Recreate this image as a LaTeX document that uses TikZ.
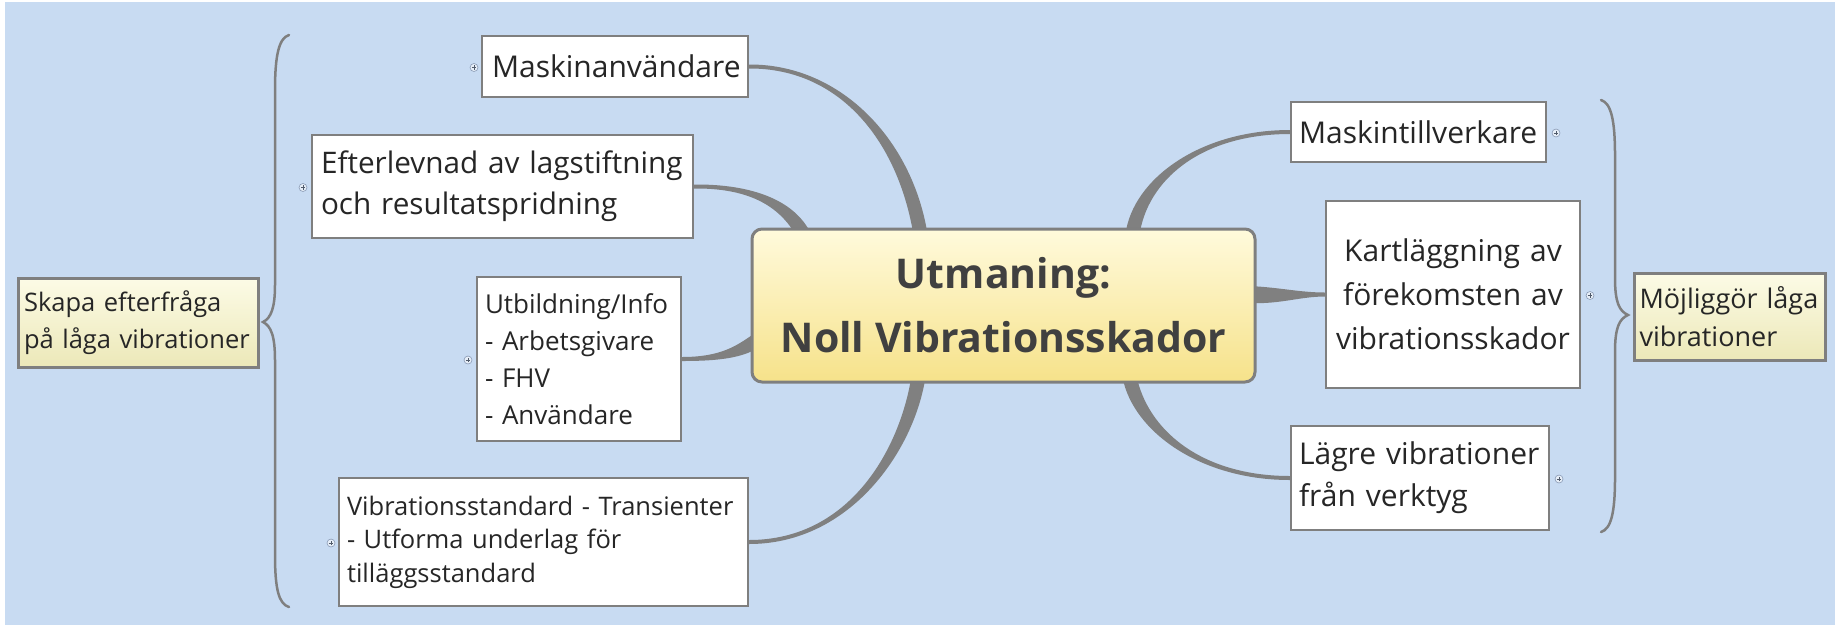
\documentclass[tikz,border=0pt]{standalone}
\usepackage{fontspec}
\setmainfont{Open Sans}
\usetikzlibrary{calc}
\definecolor{bgblue}{HTML}{C8DBF2}
\definecolor{bord}{HTML}{7F7F7F}
\definecolor{linkgray}{HTML}{808080}
\definecolor{txt}{HTML}{262626}
\definecolor{ctxt}{HTML}{404040}
\definecolor{cTop}{HTML}{FFFADC}
\definecolor{cBot}{HTML}{F6E28A}
\definecolor{sTop}{HTML}{FCFBE6}
\definecolor{sBot}{HTML}{ECE8B8}
\definecolor{iconc}{HTML}{8A9BB5}
\definecolor{iconf}{HTML}{E6EEF8}
\definecolor{iconp}{HTML}{505A6A}
\pgfdeclarelayer{back}
\pgfdeclarelayer{links}
\pgfsetlayers{back,links,main}
\newcommand{\taper}[6]{%
  \coordinate (tSp) at ($(#1)!#5!90:(#2)$);
  \coordinate (tSm) at ($(#1)!#5!-90:(#2)$);
  \coordinate (tEp) at ($(#4)!#6!-90:(#3)$);
  \coordinate (tEm) at ($(#4)!#6!90:(#3)$);
  \fill[linkgray] (tSp) .. controls ($(#2)+(tSp)-(#1)$) and ($(#3)+(tEp)-(#4)$) .. (tEp)
    -- (tEm) .. controls ($(#3)+(tEm)-(#4)$) and ($(#2)+(tSm)-(#1)$) .. (tSm) -- cycle;
}
\begin{document}
\begin{tikzpicture}[x=1pt,y=-1pt,
  wbox/.style={rectangle, draw=bord, line width=2pt, fill=white, text=txt, inner ysep=0pt},
  cream/.style={rectangle, draw=bord, line width=3pt, top color=sTop, bottom color=sBot, text=txt, inner ysep=0pt},
  centre/.style={rectangle, rounded corners=10pt, draw=bord, line width=3pt, top color=cTop, bottom color=cBot, text=ctxt, align=center},
  plusicon/.style={circle, draw=iconc, line width=0.6pt, fill=iconf, minimum size=8pt, inner sep=0pt,
    path picture={\draw[line width=0.6pt, draw=iconp]
      ([xshift=-2.2pt]path picture bounding box.center) -- ([xshift=2.2pt]path picture bounding box.center)
      ([yshift=-2.2pt]path picture bounding box.center) -- ([yshift=2.2pt]path picture bounding box.center);}},
  brace/.style={draw=bord, line width=2.5pt, line cap=round}
]
\useasboundingbox (0,0) rectangle (1835,625);
\begin{pgfonlayer}{back}
  \fill[white] (0,0) rectangle (1835,625);
  \fill[bgblue] (5,2) rectangle (1835,625);
\end{pgfonlayer}

% central node
\node[centre, minimum width=503pt, minimum height=153pt, font=\bfseries\fontsize{41}{64}\selectfont] (c) at (1003.5,305.5) {Utmaning:\\Noll Vibrationsskador};

% left topics
\node[wbox, text width=246pt, inner xsep=10pt, minimum height=61pt, align=center, font=\fontsize{30}{41}\selectfont] (mA) at (615,66.5) {Maskinanvändare};
\node[wbox, text width=363pt, inner xsep=9pt, minimum height=103pt, align=left, font=\fontsize{29.7}{41}\selectfont] (eL) at (502.5,186.5) {\mbox{Efterlevnad av lagstiftning}\\\mbox{och resultatspridning}};
\node[wbox, text width=188pt, inner xsep=8pt, minimum height=164pt, align=left, font=\fontsize{26}{37}\selectfont] (ut) at (579,359) {\mbox{Utbildning/Info}\\- Arbetsgivare\\- FHV\\- Användare};
\node[wbox, text width=393pt, inner xsep=8pt, minimum height=128pt, align=left, font=\fontsize{25.5}{33.5}\selectfont] (vs) at (543.5,542) {\mbox{Vibrationsstandard - Transienter}\\- Utforma underlag för\\tilläggsstandard};
\node[cream, text width=228pt, inner xsep=6pt, minimum height=89pt, align=left, font=\fontsize{25.5}{36.5}\selectfont] (sk) at (138,322.5) {Skapa efterfråga\\\mbox{på låga vibrationer}};

% right topics
\node[wbox, text width=239pt, inner xsep=8pt, minimum height=60pt, align=left, font=\fontsize{30}{41}\selectfont] (mt) at (1418.5,132) {Maskintillverkare};
\node[wbox, text width=238pt, inner xsep=8pt, minimum height=187pt, align=center, font=\fontsize{30}{44}\selectfont] (ka) at (1453,294.5) {Kartläggning av\\förekomsten av\\vibrationsskador};
\node[wbox, text width=242pt, inner xsep=8pt, minimum height=104pt, align=left, font=\fontsize{30}{42}\selectfont] (lg) at (1420,478) {\mbox{Lägre vibrationer}\\från verktyg};
\node[cream, text width=180pt, inner xsep=5.5pt, minimum height=87pt, align=left, font=\fontsize{27}{38}\selectfont] (mo) at (1729.5,316.5) {\mbox{Möjliggör låga}\\vibrationer};

% plus icons
\node[plusicon] (pA) at ($(mA.west)+(-7,1)$) {};
\node[plusicon] (pB) at ($(eL.west)+(-8,1)$) {};
\node[plusicon] (pC) at ($(ut.west)+(-8,1)$) {};
\node[plusicon] (pD) at ($(vs.west)+(-7,1)$) {};
\node[plusicon] (pE) at ($(mt.east)+(9,1)$) {};
\node[plusicon] (pF) at ($(ka.east)+(9,1)$) {};
\node[plusicon] (pG) at ($(lg.east)+(9,1)$) {};

% connector end points on the central node
\coordinate (eA) at ($(c.north west)+(170,7)$);
\coordinate (eB) at ($(c.north west)+(53,7)$);
\coordinate (eC) at ($(c.north west)+(6,113)$);
\coordinate (eD) at ($(c.south west)+(168,-7)$);
\coordinate (eE) at ($(c.north west)+(382,7)$);
\coordinate (eF) at ($(c.north east)+(-7,67)$);
\coordinate (eG) at ($(c.south west)+(379,-7)$);

\begin{pgfonlayer}{links}
  \taper{mA.east}{840,66}{905,140}{eA}{2pt}{7pt}
  \taper{eL.east}{745,186}{785,200}{eB}{2pt}{7pt}
  \taper{ut.east}{720,359}{740,352}{eC}{2pt}{7pt}
  \taper{vs.east}{850,542}{907,450}{eD}{2pt}{7pt}
  \taper{mt.west}{1200,132}{1140,180}{eE}{2pt}{7pt}
  \taper{ka.west}{1300,294.5}{1280,296}{eF}{2pt}{8.5pt}
  \taper{lg.west}{1200,478}{1140,430}{eG}{2pt}{7pt}
\end{pgfonlayer}

% braces
\draw[brace] (289,35) .. controls (279,38) and (275,55) .. (275,90) -- (275,285)
  .. controls (275,308) and (271,318) .. (263,322)
  .. controls (271,326) and (275,336) .. (275,360) -- (275,555)
  .. controls (275,590) and (279,604) .. (289,607);
\draw[brace] (1601,100) .. controls (1611,103) and (1615,120) .. (1615,155) -- (1615,278)
  .. controls (1615,302) and (1619,311) .. (1628,315)
  .. controls (1619,319) and (1615,328) .. (1615,352) -- (1615,478)
  .. controls (1615,513) and (1611,529) .. (1601,532);
\end{tikzpicture}
\end{document}
